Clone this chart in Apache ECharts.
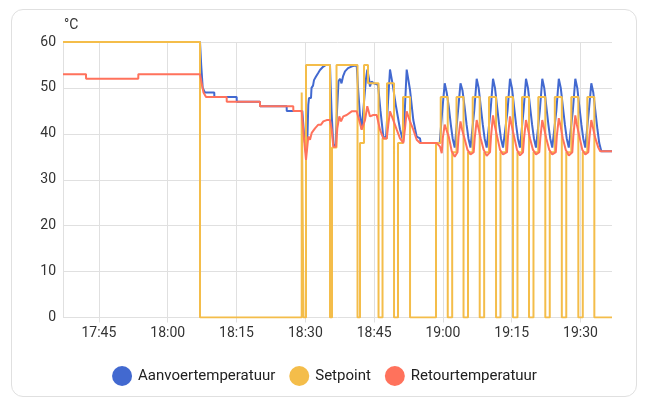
<!DOCTYPE html>
<html>
<head>
<meta charset="utf-8">
<script src="https://cdn.jsdelivr.net/npm/echarts@6/dist/echarts.min.js"></script>
<style>
    html, body { margin: 0; padding: 0; background: #fff; }
    .card {
        position: absolute; left: 11px; top: 9px; width: 624px; height: 386px;
        border: 1px solid #e0e0e0; border-radius: 12px; background: #fff;
    }
    #chart { position: absolute; left: 0; top: 0; width: 649px; height: 404px; }
</style>
</head>
<body>
<div class="card"></div>
<div id="chart"></div>
<script>
// tijden in minuten na 18:00
var startMin = -22.83;
var endMin = 96.86;
var xTicks = [-15, 0, 15, 30, 45, 60, 75, 90];   // 17:45 .. 19:30
var yTicks = [0, 10, 20, 30, 40, 50, 60];
var seriesNames = ['Aanvoertemperatuur', 'Setpoint', 'Retourtemperatuur'];

// Aanvoertemperatuur
var aanvoer = [
    [-22.83, 60], [7.04, 60], [7.3, 55], [7.63, 50], [8.1, 49], [10.15, 49], [10.17, 48], [15.03, 48],
    [15.05, 47], [20.11, 47], [20.13, 46], [25.93, 46], [25.95, 45], [29.34, 45],
    [29.71, 40], [30.15, 35.8], [30.48, 40], [30.65, 46.3], [30.8, 47.8], [31.24, 47.8], [31.35, 50],
    [31.68, 50.5], [31.89, 51.7], [32.33, 52.5], [32.77, 53.2], [33.2, 53.9], [33.86, 54.6], [34.51, 55],
    [35.38, 55], [35.71, 45], [36.1, 37.5], [36.58, 37.5], [36.91, 45], [37.24, 51.5], [37.57, 52],
    [37.89, 51], [38.22, 52.5], [38.65, 53.6], [39.31, 54.3], [40.18, 54.7], [41.2, 55], [41.49, 50],
    [41.92, 44], [42.29, 41], [42.8, 47], [43.23, 52], [43.51, 54], [43.88, 52], [44.1, 50.3],
    [44.43, 51.4], [44.98, 51], [45.85, 50.7], [46.39, 45], [47.0, 39.4], [47.59, 39], [48.03, 47],
    [48.46, 54], [49.0, 51], [49.77, 46], [50.64, 41], [51.36, 38.3], [51.73, 46], [52.1, 54],
    [52.82, 49.6], [53.54, 43], [54.28, 39.4], [55.0, 39], [55.16, 38], [58.64, 38],
    [59.3, 38], [59.85, 45], [60.39, 51], [60.82, 49], [61.27, 46], [61.72, 42], [62.12, 39], [62.57, 37],
    [62.74, 37], [63.29, 45], [63.83, 51], [64.26, 49.5], [64.71, 46], [65.16, 42], [65.56, 39], [66.01, 37],
    [66.27, 37], [66.82, 45], [67.36, 52], [67.79, 50], [68.24, 46], [68.69, 42], [69.09, 39], [69.54, 37],
    [69.83, 37], [70.38, 45], [70.92, 52], [71.35, 50], [71.8, 46], [72.25, 42], [72.65, 39], [73.1, 37],
    [73.53, 37], [74.08, 45], [74.62, 52], [75.05, 50], [75.5, 46], [75.95, 42], [76.35, 39], [76.8, 37],
    [77.02, 37], [77.57, 45], [78.11, 52], [78.54, 50], [78.99, 46], [79.44, 42], [79.84, 39], [80.29, 37],
    [80.57, 37], [81.12, 45], [81.66, 52], [82.09, 50], [82.54, 46], [82.99, 42], [83.39, 39], [83.84, 37],
    [84.17, 37], [84.72, 45], [85.26, 52], [85.69, 50], [86.14, 46], [86.59, 42], [86.99, 39], [87.44, 37],
    [87.77, 37], [88.32, 45], [88.86, 52], [89.29, 50], [89.74, 46], [90.19, 42], [90.59, 39], [91.04, 37],
    [91.26, 37], [91.81, 45], [92.35, 51], [92.78, 49], [93.23, 45], [93.68, 41], [94.08, 38], [94.53, 36.2],
    [96.86, 36.2]
];

// Setpoint (trapvormig)
var setpoint = [
    [-22.83, 60], [7.04, 0], [29.21, 49], [29.61, 0], [30.15, 55], [35.38, 0], [35.82, 37], [36.8, 55],
    [41.38, 0], [41.92, 38], [42.8, 55], [43.67, 51], [45.96, 0], [46.83, 39], [47.81, 51], [49.34, 0],
    [50.21, 38], [51.3, 48], [52.83, 0], [58.49, 38],
    [59.52, 48], [61.05, 0], [62.02, 36],
    [62.96, 48], [64.49, 0], [65.46, 36],
    [66.49, 48], [68.02, 0], [68.99, 36],
    [70.05, 48], [71.58, 0], [72.55, 36],
    [73.75, 48], [75.28, 0], [76.25, 36],
    [77.24, 48], [78.77, 0], [79.74, 36],
    [80.79, 48], [82.32, 0], [83.29, 36],
    [84.39, 48], [85.92, 0], [86.89, 36],
    [87.99, 48], [89.52, 0], [90.49, 36],
    [91.48, 48], [93.01, 0], [96.86, 0]
];

// Retourtemperatuur
var retour = [
    [-22.83, 53], [-17.82, 53], [-17.8, 52], [-6.42, 52], [-6.4, 53], [7.04, 53], [7.4, 51], [7.8, 49],
    [8.35, 48], [12.85, 48], [12.87, 47], [20.11, 47], [20.13, 46], [27.37, 46], [27.39, 45], [29.21, 45],
    [29.71, 39], [30.15, 34.3], [30.65, 39.4], [31.02, 38.7], [31.39, 40.2], [32.11, 41.2], [32.83, 42],
    [33.42, 42], [33.92, 42.7], [34.66, 43], [35.38, 43], [35.75, 40.9], [36.1, 37.2], [36.69, 37.2],
    [36.97, 41.2], [37.41, 43.8], [37.78, 42.7], [38.28, 43.8], [39.02, 44.1], [40.11, 44.9], [41.2, 44.9],
    [41.92, 42.3], [42.29, 40.9], [43.01, 43], [43.51, 46], [44.1, 43.8], [44.82, 44.1], [45.56, 44.1],
    [46.28, 40.9], [47.0, 39], [47.75, 39], [48.09, 42], [48.46, 44.9], [49.18, 43], [49.92, 40.9],
    [50.64, 39], [51.36, 38], [51.73, 41.2], [52.1, 44.9], [52.82, 42.7], [53.54, 40.9], [54.28, 38.7],
    [55.0, 38], [58.64, 38], [59.36, 37.2],
    [59.74, 35.8], [59.96, 39], [60.39, 42], [60.72, 41], [61.27, 39.4], [61.92, 36.2], [62.57, 35],
    [63.18, 36], [63.4, 39.4], [63.83, 42.7], [64.16, 41], [64.71, 39], [65.36, 36.5], [66.01, 35.5],
    [66.71, 36], [66.93, 39], [67.36, 43], [67.69, 41.5], [68.24, 39], [68.89, 36.5], [69.54, 35.2],
    [70.27, 36], [70.49, 39.5], [70.92, 44], [71.25, 42], [71.8, 39.5], [72.45, 36.5], [73.1, 35.5],
    [73.97, 36], [74.19, 39.5], [74.62, 43.8], [74.95, 42], [75.5, 39.5], [76.15, 36.5], [76.8, 35.3],
    [77.46, 36], [77.68, 39], [78.11, 43], [78.44, 41.5], [78.99, 39], [79.64, 36.5], [80.29, 35.5],
    [81.01, 36], [81.23, 39], [81.66, 43], [81.99, 41.5], [82.54, 39], [83.19, 36.5], [83.84, 35.5],
    [84.61, 36], [84.83, 39.5], [85.26, 43.4], [85.59, 42], [86.14, 39], [86.79, 36.5], [87.44, 35.3],
    [88.21, 36], [88.43, 39.5], [88.86, 44], [89.19, 42], [89.74, 39.5], [90.39, 36.5], [91.04, 35.5],
    [91.7, 36], [91.92, 39], [92.35, 43], [92.68, 41.5], [93.23, 39], [93.88, 37], [94.3, 36.2],
    [96.86, 36.2]
];

function pad(n) {
    return n < 10 ? '0' + n : '' + n;
}
// minuten na 18:00 -> "HH:MM"
function minToLabel(m) {
    var total = Math.round(18 * 60 + m);
    return pad(Math.floor(total / 60)) + ':' + pad(total % 60);
}

var chart = echarts.init(document.getElementById('chart'), null, {renderer: 'canvas'});
var option = {
    animation: false,
    textStyle: {fontFamily: 'Roboto'},
    color: ['#4269d0', '#f4bd4a', '#ff725c'],
    grid: {left: 63, right: 37, top: 42, bottom: 86.5, containLabel: false},
    legend: {
        data: seriesNames,
        top: 361,
        left: 'center',
        icon: 'circle',
        itemWidth: 20,
        itemHeight: 20,
        itemGap: 14,
        textStyle: {fontSize: 15, color: '#212121', fontFamily: 'Roboto', padding: [0, 0, 0, 1]}
    },
    xAxis: {
        type: 'value',
        min: startMin,
        max: endMin,
        axisLine: {show: false},
        axisTick: {show: true, length: 5, lineStyle: {color: '#e0e0e0'}, customValues: xTicks},
        splitLine: {show: true, lineStyle: {color: '#e0e0e0', width: 1}},
        axisLabel: {
            fontSize: 14,
            color: '#333',
            margin: 9,
            customValues: xTicks,
            formatter: minToLabel
        }
    },
    yAxis: {
        type: 'value',
        min: yTicks[0],
        max: yTicks[yTicks.length - 1],
        interval: 10,
        name: '°C',
        nameGap: 10,
        nameTextStyle: {fontSize: 14, color: '#333', align: 'left', padding: [0, 0, 0, 1]},
        axisLine: {show: true, onZero: false, lineStyle: {color: '#e0e0e0'}},
        axisTick: {show: false},
        splitLine: {show: true, lineStyle: {color: '#e0e0e0', width: 1}},
        axisLabel: {fontSize: 14, color: '#333', margin: 7}
    },
    series: [
        {
            name: seriesNames[0],
            type: 'line',
            showSymbol: false,
            lineStyle: {width: 2},
            data: aanvoer
        },
        {
            name: seriesNames[1],
            type: 'line',
            step: 'end',
            showSymbol: false,
            lineStyle: {width: 2},
            data: setpoint
        },
        {
            name: seriesNames[2],
            type: 'line',
            showSymbol: false,
            lineStyle: {width: 2},
            data: retour
        }
    ]
};
chart.setOption(option);
</script>
</body>
</html>
